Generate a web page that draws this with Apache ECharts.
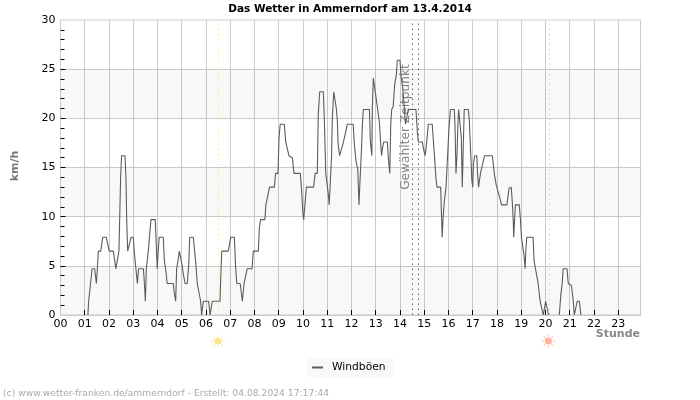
<!DOCTYPE html>
<html><head><meta charset="utf-8">
<style>html,body{margin:0;padding:0;background:#fff}#c{width:700px;height:400px}</style>
<script src="https://cdn.jsdelivr.net/npm/echarts@6/dist/echarts.min.js"></script>
</head><body><div id="c"></div>
<script>
const FONT = '"DejaVu Sans", sans-serif';
const titleText = 'Das Wetter in Ammerndorf am 13.4.2014';
const footerText = '(c) www.wetter-franken.de/ammerndorf - Erstellt: 04.08.2024 17:17:44';
const seriesName = 'Windböen';
const hourLabels = ['00','01','02','03','04','05','06','07','08','09','10','11','12','13','14','15','16','17','18','19','20','21','22','23'];
const hourTicks = [1,2,3,4,5,6,7,8,9,10,11,12,13,14,15,16,17,18,19,20,21,22,23];
const speedTicks = [5,10,15,20,25];
const bandRanges = [[0,5],[10,15],[20,25]];
const sunriseHour = 6.5, sunsetHour = 20.16;
const selectedHours = [14.5, 14.77];

const gustHours = [
1.13,1.16,1.24,1.30,1.41,1.48,1.52,1.56,1.66,1.74,1.89,2.01,2.18,2.28,2.36,2.41,2.44,2.48,2.52,2.66,2.70,2.73,2.77,2.84,2.91,3.00,3.04,3.11,3.17,3.22,3.26,3.42,3.46,3.50,3.54,3.58,3.62,3.68,3.73,3.91,3.95,3.99,4.03,4.07,4.24,4.28,4.35,4.40,
4.65,4.69,4.75,4.79,4.85,4.90,4.97,5.02,5.06,5.14,5.23,5.29,5.33,5.48,5.53,5.59,5.64,5.72,5.78,5.82,5.89,6.11,6.17,6.21,6.26,6.58,6.60,6.65,6.92,6.97,7.02,7.17,7.22,7.27,7.41,7.50,7.57,7.70,7.90,7.95,8.16,
8.20,8.25,8.43,8.47,8.54,8.62,8.82,8.87,8.97,9.01,9.06,9.23,9.29,9.37,9.42,9.49,9.56,9.63,9.89,9.95,9.99,10.03,10.10,10.14,10.44,10.50,10.59,10.63,10.69,10.84,10.88,10.94,11.00,11.04,11.08,11.13,11.18,11.21,11.27,11.33,11.38,11.42,11.45,11.51,11.57,11.65,11.73,
11.77,11.83,12.07,12.12,12.19,12.26,12.31,12.34,12.41,12.45,12.49,12.74,12.78,12.84,12.86,12.90,12.98,13.02,13.08,13.15,13.20,13.24,13.28,13.33,13.48,13.52,13.58,13.62,13.66,13.72,13.78,13.85,13.89,14.00,14.04,14.12,14.19,14.23,14.28,14.34,14.66,14.72,14.76,14.92,14.99,15.04,15.09,15.17,15.33,15.39,15.44,
15.49,15.53,15.68,15.70,15.74,15.79,15.83,15.90,15.98,16.02,16.08,16.24,16.27,16.31,16.35,16.39,16.42,16.49,16.53,16.57,16.61,16.65,16.82,16.86,16.90,16.94,16.96,17.00,17.03,17.08,17.17,17.20,17.24,17.28,17.32,17.40,17.49,17.81,17.89,17.97,18.05,18.14,18.19,18.41,18.50,18.59,18.63,18.67,18.69,18.76,18.92,
18.97,19.01,19.12,19.16,19.19,19.23,19.49,19.53,19.59,19.65,19.70,19.78,19.91,19.96,20.01,20.07,20.13,20.35,20.57,20.64,20.69,20.73,20.89,20.94,20.99,21.07,21.14,21.19,21.23,21.31,21.40,21.46];
const gustValues = [
0,1.4,3.2,4.7,4.7,3.2,4.7,6.5,6.5,7.9,7.9,6.5,6.5,4.7,4.7,6.5,9.7,14,16.2,16.2,13.9,9.7,6.5,6.5,7.9,7.9,6.5,4.7,3.2,4.7,4.7,4.7,3.2,1.4,4.7,5.6,6.5,6.5,9.7,9.7,7,4.7,6.5,7.9,7.9,5.6,4.4,3.2,
3.2,2.3,1.4,4.7,5.6,6.5,6.5,5,4.2,3.2,3.2,5.2,7.9,7.9,6.5,5,3.2,3.2,1.4,0,1.4,1.4,0,0,1.4,1.4,3.2,6.5,6.5,7.2,7.9,7.9,5,3.2,3.2,1.4,3.2,4.7,4.7,6.5,6.5,
8.8,9.7,9.7,11.2,11.2,13,13,14.4,14.4,17.9,19.4,19.4,17.6,17.6,16.2,16.2,16,14.4,14.4,12.4,10.5,9.7,9.7,13,13,14.4,14.4,20.4,22.7,22.7,20,14.4,14.4,12.4,11.2,13.6,16.2,20,22.7,22.7,20.9,19.6,17.4,16.2,16.2,17.4,17.6,
18.7,19.4,19.4,17.3,15.6,14.8,11.2,13,16.7,19.4,20.9,20.9,17.6,16.2,20.9,24.1,24.1,22,20.9,19.6,17.6,16.2,17,17.6,17.6,16,14.4,19.4,20.9,21.2,23.4,24.4,25.9,25.9,24.4,23,20.5,19.4,19.4,20.9,20.9,18.5,17.6,17.6,16.7,16.2,17.3,19.4,19.4,17.3,15.6,
13.7,13,13,11.2,7.9,10.3,11.6,13,13,18.9,20.9,20.9,19.3,14.4,16.1,19.4,20.9,20.9,18,13,17,20.9,20.9,19.8,17.3,15.3,13.8,13,15.3,16.2,16.2,14.4,13,13.7,14.4,14.4,16.2,16.2,14.4,13.2,13,11.7,11.2,11.2,12.9,13,11.6,9.7,7.9,11.2,11.2,
9.7,7.9,6,4.7,6.5,7.9,7.9,5.5,4.7,4.7,3.2,1.4,0,0,1.4,1.4,0,null,0,2.2,3.2,4.7,4.7,3.2,3.2,3,1.6,0,0,1.4,1.4,0];

const chart = echarts.init(document.getElementById('c'), null, {renderer:'canvas'});
const vLine = (x, color) => ({xAxis:x, lineStyle:{color, type:[1.5,3.5], width:1}});
const option = {
  animation:false,
  backgroundColor:'#fff',
  textStyle:{fontFamily:FONT},
  title:{text:titleText, left:'center', top:-1, textStyle:{fontFamily:FONT,fontSize:10.5,fontWeight:'bold',color:'#000'}},
  legend:{left:307, top:358, padding:[4,8,4,5], backgroundColor:'#f8f8f8', itemWidth:11, itemHeight:2, icon:'rect',
    data:[seriesName], textStyle:{fontFamily:FONT,fontSize:10.7,color:'#000',padding:[0,0,0,4]}},
  grid:{left:60.5, right:59.5, top:20, bottom:85, show:true, borderColor:'#ccc', borderWidth:1, backgroundColor:'transparent'},
  xAxis:{type:'value', min:0, max:23.92, interval:1, position:'bottom',
    axisLine:{lineStyle:{color:'#ccc'}}, axisTick:{inside:true,length:5,customValues:hourTicks,lineStyle:{color:'#000'}},
    splitLine:{show:true,lineStyle:{color:'#ccc'}},
    axisLabel:{showMaxLabel:false, margin:4, fontSize:11, color:'#000', fontFamily:FONT, hideOverlap:false, formatter:v=>hourLabels[v]||''}},
  yAxis:{type:'value', min:0, max:30, interval:5,
    axisLine:{show:true,lineStyle:{color:'#ccc'}}, axisTick:{show:true,inside:true,length:5,customValues:speedTicks,lineStyle:{color:'#000'}},
    minorTick:{show:true,splitNumber:5,length:4,lineStyle:{color:'#000'}},
    splitLine:{show:true,lineStyle:{color:'#ccc'}},
    axisLabel:{margin:5,fontSize:11,color:'#000',fontFamily:FONT}},
  series:[{name:seriesName,type:'line',showSymbol:false,symbol:'none',connectNulls:false,
    color:'#5c5c5c',lineStyle:{color:'#5c5c5c',width:1.1},
    data:gustHours.map((h,i)=>[h,gustValues[i]]),
    markArea:{silent:true,animation:false,itemStyle:{color:'rgba(0,0,0,0.028)',borderWidth:0},
      data:bandRanges.map(r=>[{yAxis:r[0]},{yAxis:r[1]}])},
    markLine:{silent:true,symbol:'none',label:{show:false},animation:false,
      data:[vLine(sunriseHour,'#fff04d'),vLine(sunsetHour,'#f5c978'),vLine(selectedHours[0],'#666'),vLine(selectedHours[1],'#666')]}
  }]
};
chart.setOption(option);

function sun(cx, cy, core, ray){
  const els=[{type:'circle',shape:{cx,cy,r:3.6},style:{fill:core},silent:true}];
  for(let i=0;i<8;i++){const a=i*Math.PI/4;
    els.push({type:'line',shape:{x1:cx+Math.cos(a)*4.4,y1:cy+Math.sin(a)*4.4,x2:cx+Math.cos(a)*6.6,y2:cy+Math.sin(a)*6.6},style:{stroke:ray,lineWidth:1.2},silent:true});}
  return els;
}
const px = h => chart.convertToPixel({xAxisIndex:0}, h);
chart.setOption({graphic:[
  {type:'text',left:3,top:389,style:{text:footerText,font:'9.2px '+FONT,fill:'#aaa'}},
  {type:'text',x:15,y:166,rotation:Math.PI/2,style:{text:'km/h',font:'bold 11px '+FONT,fill:'#777',align:'center',verticalAlign:'middle'}},
  {type:'text',x:640,y:334,style:{text:'Stunde',font:'bold 11px '+FONT,fill:'#888',align:'right',verticalAlign:'middle'}},
  {type:'text',x:px(selectedHours[0])-6,y:127,rotation:Math.PI/2,style:{text:'Gewählter Zeitpunkt',font:'12.2px '+FONT,fill:'#888',align:'center',verticalAlign:'middle'}},
  ...sun(px(sunriseHour),341,'#ffe38f','#ffe9a8'),
  ...sun(px(sunsetHour)-1,341,'#ffb39c','#ffc6b4')
]});
</script></body></html>
